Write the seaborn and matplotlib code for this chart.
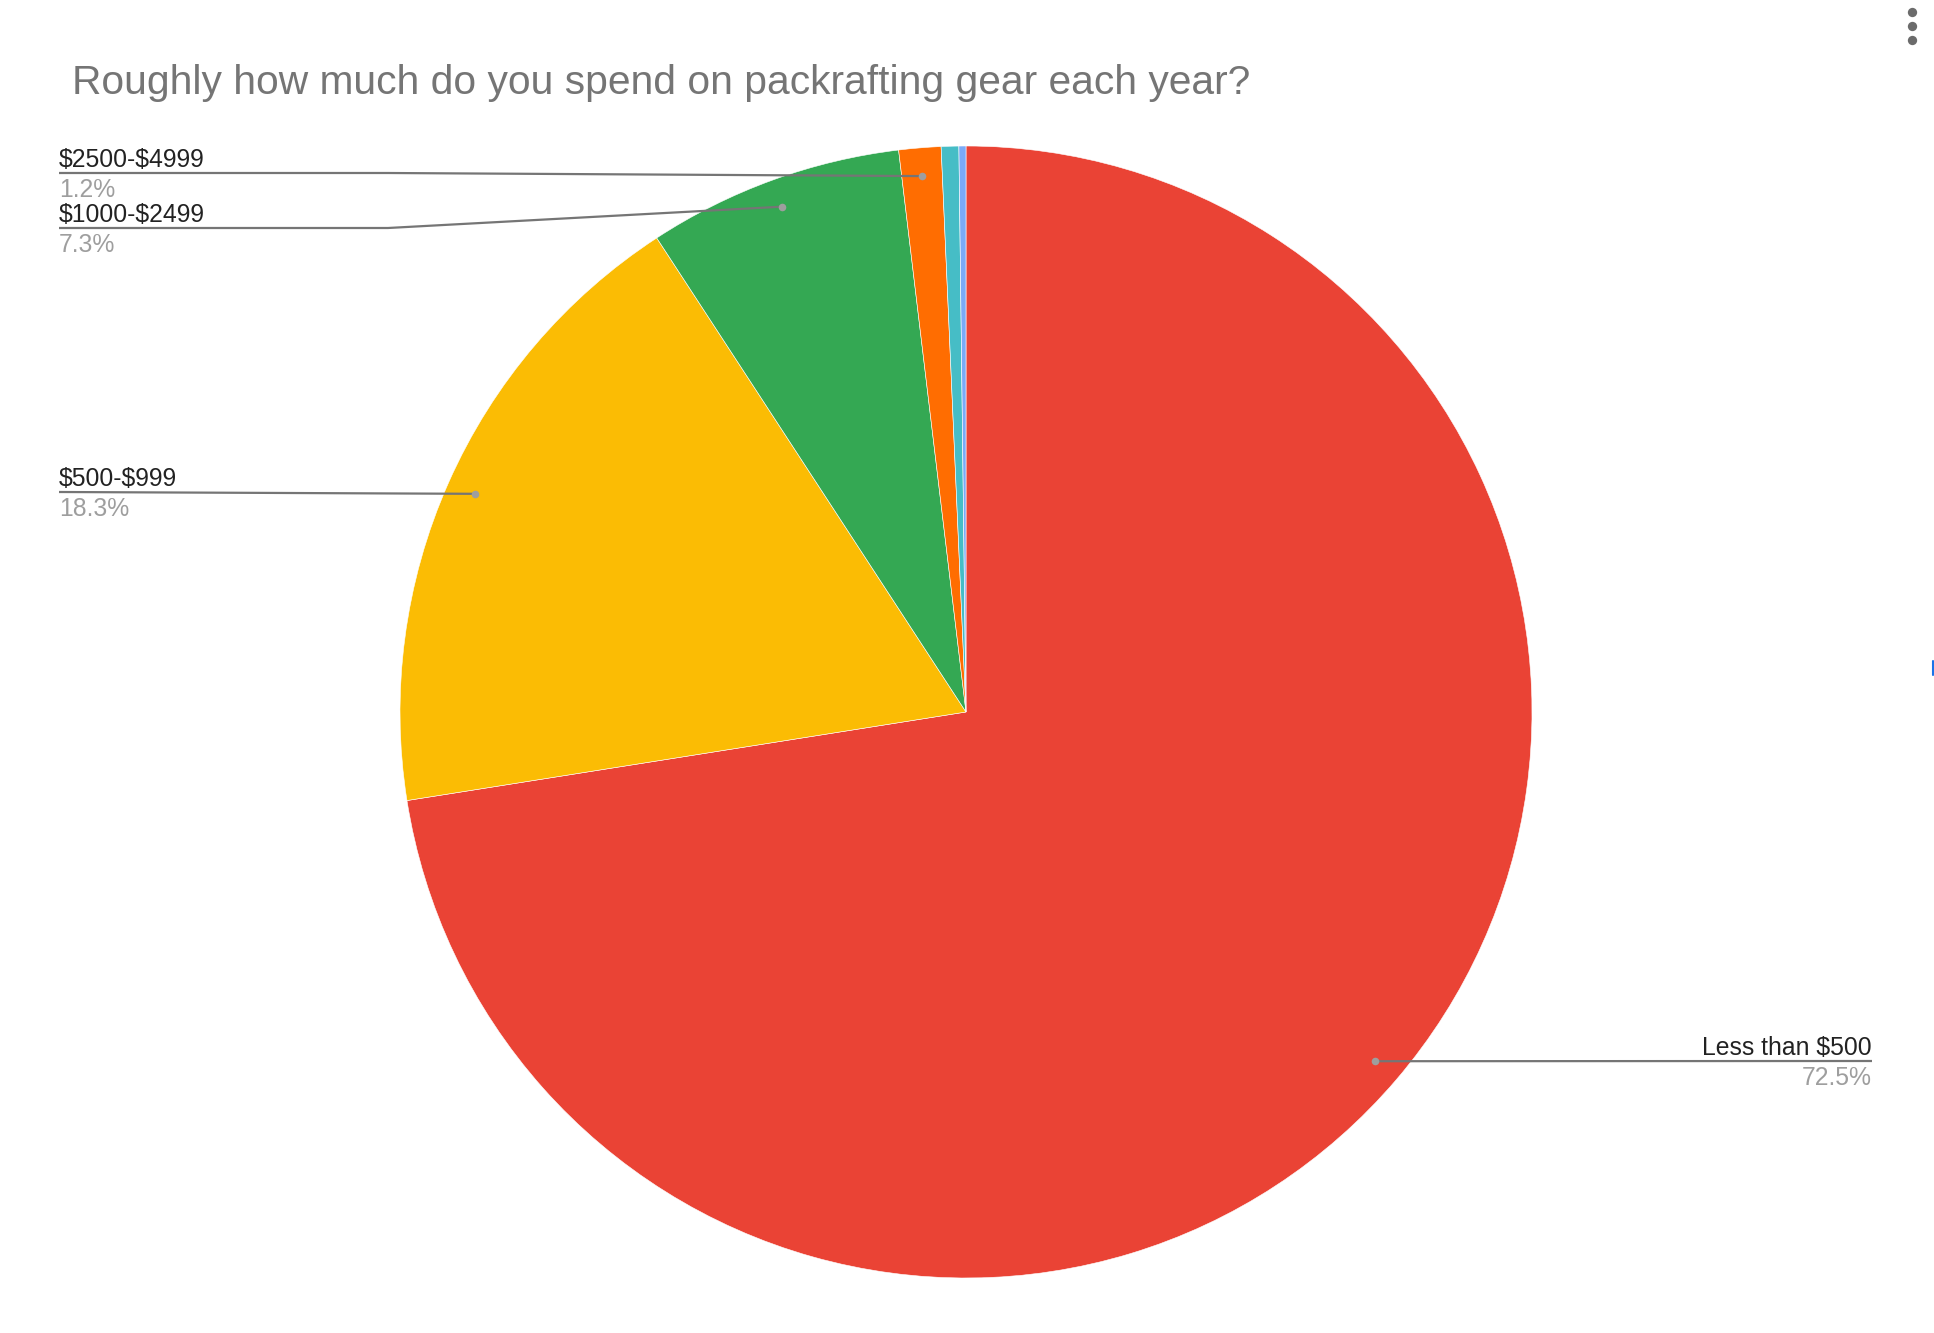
import numpy as np
import matplotlib.pyplot as plt
import seaborn as sns

# Survey answers, clockwise from 12 o'clock
categories = ["Less than $500", "$500-$999", "$1000-$2499", "$2500-$4999", "$5000-$9999", "$10000+"]
shares = [72.5, 18.3, 7.3, 1.2, 0.5, 0.2]
pct_labels = ["72.5%", "18.3%", "7.3%", "1.2%", "", ""]
colors = ["#EA4335", "#FBBC04", "#34A853", "#FF6D01", "#46BDC6", "#7BAAF7"]

title = "Roughly how much do you spend on packrafting gear each year?"

sns.set_theme(style="white")
plt.rcParams['font.family'] = ['Liberation Sans', 'DejaVu Sans']

W, H = 1934, 1333
CX, CY, R = 966, 712, 566          # pie centre / radius in pixels (y down)

fig = plt.figure(figsize=(W / 100, H / 100), dpi=100)
ax = fig.add_axes([0, 0, 1, 1])

ax.pie(shares, colors=colors, startangle=90, counterclock=False,
       center=(CX, H - CY), radius=R,
       wedgeprops=dict(linewidth=0.4, edgecolor="white"))
ax.set_xlim(0, W)
ax.set_ylim(0, H)
ax.axis("off")

# leader dots sit at 95% of the radius on each slice's mid angle
cum = np.cumsum([0] + shares[:-1])
mid = np.deg2rad(90 - 360 * (cum + np.array(shares) / 2) / 100)
dot_x = CX + 0.95 * R * np.cos(mid)
dot_y = (H - CY) + 0.95 * R * np.sin(mid)

# label rows: (side, y of underline in pixels, elbow x)
label_rows = {0: ("right", 1061, None), 1: ("left", 492, None),
              2: ("left", 228, 388), 3: ("left", 173, 388)}

line_col = "#757575"
fs = 17.8
for i, (side, ly, elbow) in label_rows.items():
    y = H - ly
    if side == "right":
        tx, ha = 1872, "right"
        xs, ys = [dot_x[i], 1872], [dot_y[i], y]
    else:
        tx, ha = 59, "left"
        if elbow is None:
            xs, ys = [59, dot_x[i]], [y, dot_y[i]]
        else:
            xs, ys = [59, elbow, dot_x[i]], [y, y, dot_y[i]]
    ax.text(tx, y + 6, categories[i], ha=ha, va="baseline", fontsize=fs,
            color="#222222", parse_math=False)
    ax.text(tx, y - 24, pct_labels[i], ha=ha, va="baseline", fontsize=fs,
            color="#9e9e9e", parse_math=False)
    ax.plot(xs, ys, color=line_col, lw=1.6, solid_capstyle="butt", zorder=3)
    ax.scatter([dot_x[i]], [dot_y[i]], s=30, color="#9e9e9e", zorder=4, linewidths=0)

ax.text(72, H - 94, title, ha="left", va="baseline", fontsize=29.3, color="#757575")

# menu dots in the corner
ax.scatter([1912, 1912, 1912], [H - 12, H - 26, H - 40], s=45, color="#6b6b6b", linewidths=0)
ax.plot([1933, 1933], [H - 661, H - 675], color="#1a73e8", lw=1.5)

fig.savefig("out.png", dpi=100)
